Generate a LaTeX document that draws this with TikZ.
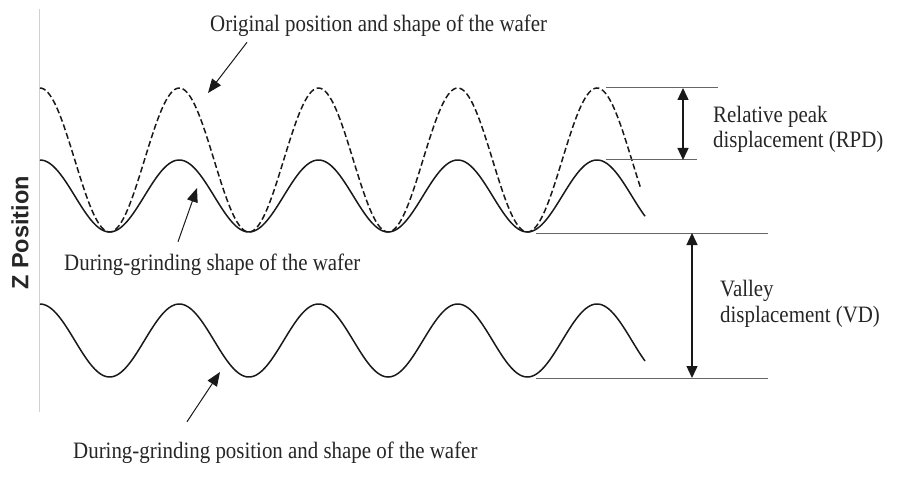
\documentclass[tikz,border=0pt]{standalone}
\usepackage{fontspec}
\setmainfont{Liberation Serif}[FakeStretch=0.89]
\newfontfamily\axisfont{Liberation Sans}
\usetikzlibrary{arrows.meta,calc}
\begin{document}
\begin{tikzpicture}[x=1pt,y=-1pt,
  lbl/.style={font=\fontsize{23.5}{27}\selectfont, inner sep=0pt, anchor=base west, text=black!85},
  curve/.style={line width=1.5pt, black!90},
  refline/.style={line width=1pt, black!60},
  ptr/.style={line width=1pt, black!90, -{Triangle[width=11pt,length=14pt]}},
  dbl/.style={line width=1.3pt, black!90, {Triangle[width=11pt,length=12pt]}-{Triangle[width=11pt,length=12pt]}}]
\useasboundingbox (0,0) rectangle (917,481);
% axis
\coordinate (axtop) at (39,9);
\coordinate (axbot) at (39,412);
\draw[black!18, line width=0.8pt] (axtop) -- (axbot);
\node[rotate=90, font=\axisfont\bfseries\fontsize{23.5}{27}\selectfont, inner sep=0pt, text=black!85] (zlab) at (20,233) {Z Position};
% curves
\draw[curve, dash pattern=on 6pt off 3pt, domain=40:641, samples=300, smooth, variable=\x]
  plot (\x,{160-72*cos((\x-40)/139.25*360)});
\draw[curve, domain=40:645, samples=300, smooth, variable=\x]
  plot (\x,{196-36*cos((\x-40)/139.25*360)});
\draw[curve, domain=40:645, samples=300, smooth, variable=\x]
  plot (\x,{340.5-36.5*cos((\x-40)/139.25*360)});
% reference lines
\coordinate (p1a) at (606,88);  \coordinate (p1b) at (718,88);
\coordinate (p2a) at (606,160); \coordinate (p2b) at (697,160);
\coordinate (v1a) at (536,233); \coordinate (v1b) at (768,233);
\coordinate (v2a) at (536,378); \coordinate (v2b) at (768,378);
\draw[refline] (p1a) -- (p1b);
\draw[refline] (p2a) -- (p2b);
\draw[refline] (v1a) -- (v1b);
\draw[refline] (v2a) -- (v2b);
% dimension arrows
\coordinate (r1) at (683,88);  \coordinate (r2) at (683,160);
\coordinate (d1) at (692,233); \coordinate (d2) at (692,378);
\draw[dbl] (r1) -- (r2);
\draw[dbl] (d1) -- (d2);
% labels
\node[lbl] (orig) at (210,32) {Original position and shape of the wafer};
\node[lbl] (dshape) at (64,270) {During-grinding shape of the wafer};
\node[lbl] (dpos) at (73,458) {During-grinding position and shape of the wafer};
\node[lbl] (rpd1) at (713,123) {Relative peak};
\node[lbl] (rpd2) at (713,148) {displacement (RPD)};
\node[lbl] (vd1) at (720,296) {Valley};
\node[lbl] (vd2) at (720,322) {displacement (VD)};
% pointers
\coordinate (t1) at (208,93);
\coordinate (t2) at (197,188);
\coordinate (t3) at (220,372);
\draw[ptr] ($(orig.south west)+(37,5)$) -- (t1);
\draw[ptr] ($(dshape.north west)+(114,-11.5)$) -- (t2);
\draw[ptr] ($(dpos.north west)+(114,-19.5)$) -- (t3);
\end{tikzpicture}
\end{document}
